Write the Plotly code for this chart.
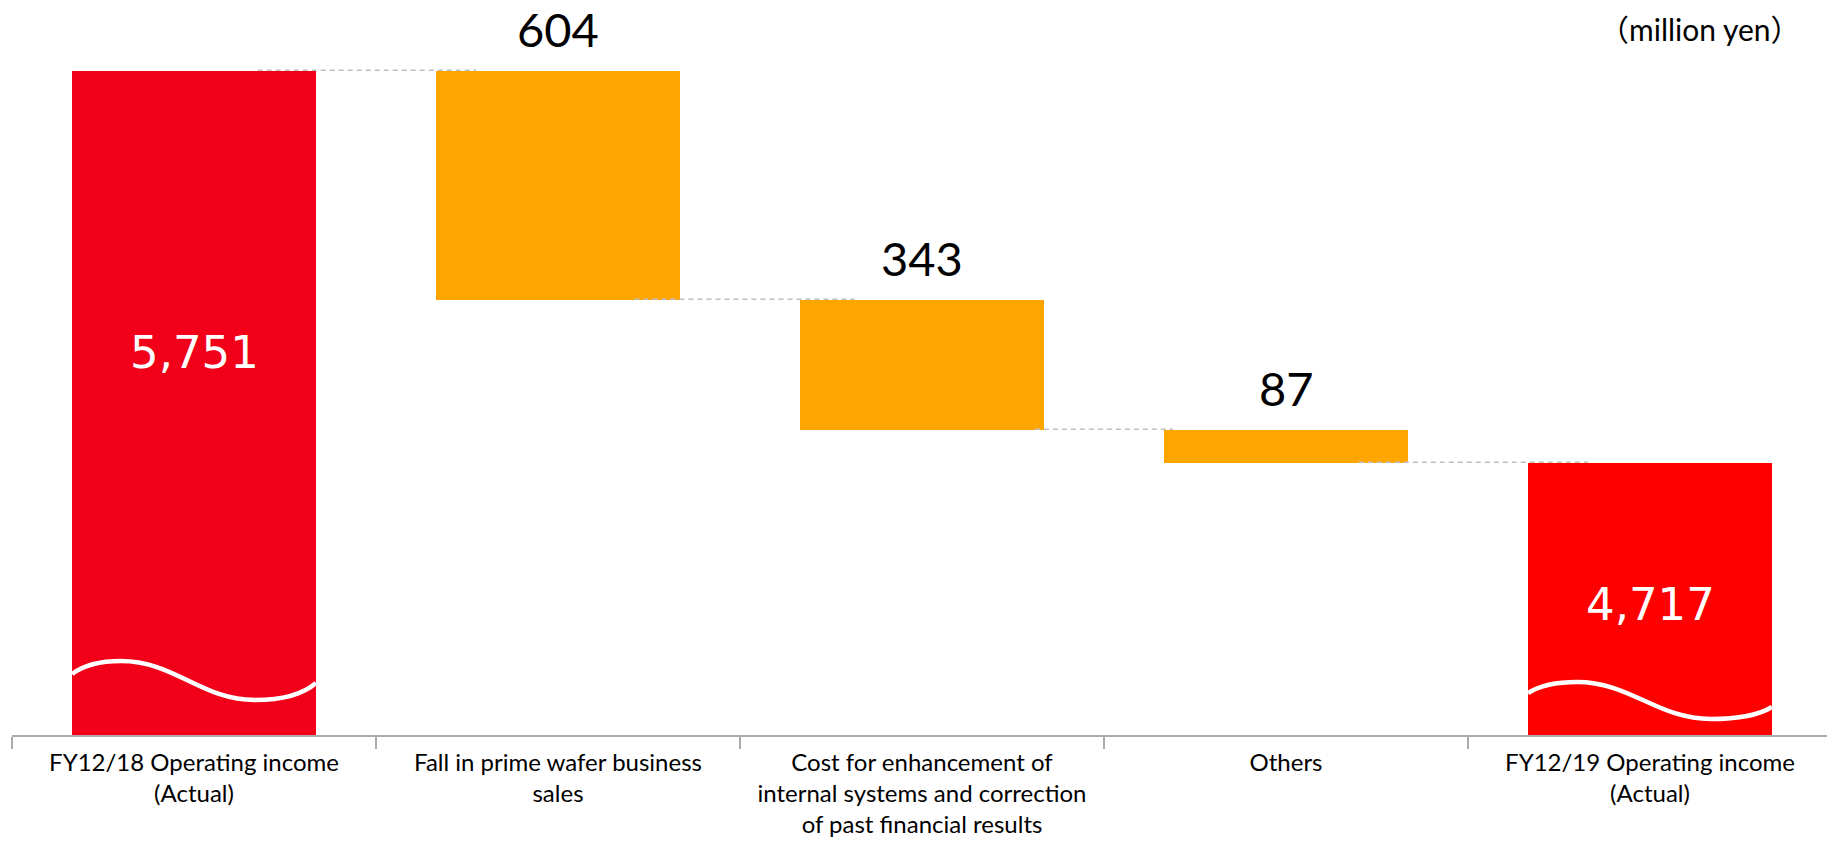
import plotly.graph_objects as go

categories = [
    "FY12/18 Operating income<br>(Actual)",
    "Fall in prime wafer business<br>sales",
    "Cost for enhancement of<br>internal systems and correction<br>of past financial results",
    "Others",
    "FY12/19 Operating income<br>(Actual)",
]
start_value = 5751
decreases = [604, 343, 87]
end_value = 4717
unit_label = "（million yen）"

# derived bar geometry
bases = [0]
heights = [start_value]
level = start_value
for d in decreases:
    level -= d
    bases.append(level)
    heights.append(d)
bases.append(0)
heights.append(end_value)
tops = [b + h for b, h in zip(bases, heights)]

colors = ["#F20019", "#FFA500", "#FFA500", "#FFA500", "#FF0000"]
xs = list(range(len(categories)))
bar_w = 0.67
y_min, y_max = 4000, 5918

fig = go.Figure()
fig.add_trace(go.Bar(
    x=xs, y=heights, base=bases, width=bar_w,
    marker=dict(color=colors, line=dict(width=0)),
    hoverinfo="skip", showlegend=False,
))

# connectors (dashed)
conn_off = [(0.175, 0.775), (0.21, 0.815), (0.31, 0.69), (0.2, 0.83)]
for i, (a, b) in enumerate(conn_off):
    lvl = tops[i] if i == 0 else bases[i]
    fig.add_shape(type="line", xref="x", yref="y", x0=i + a, x1=i + b,
                  ysizemode="pixel", yanchor=lvl, y0=1, y1=1,
                  line=dict(color="#BFBFBF", width=1.6, dash="5px,4px"), layer="above")

# wavy break marks on total bars (pixel heights above axis)
waves = {0: (61, 74, 35, 52), 4: (42, 53, 16, 28)}
for i, (L, P, T, R) in waves.items():
    x0 = i - bar_w / 2
    w = bar_w
    def X(f):
        return x0 + f * w
    path = (f"M {X(0)},{L} Q {X(0.07)},{P} {X(0.2)},{P} "
            f"C {X(0.42)},{P} {X(0.53)},{T} {X(0.75)},{T} "
            f"Q {X(0.92)},{T} {X(1.0)},{R}")
    fig.add_shape(type="path", path=path, xref="x", yref="y",
                  ysizemode="pixel", yanchor=y_min,
                  line=dict(color="white", width=4.5), layer="above")

# value labels above the decrease bars
for i in range(1, 1 + len(decreases)):
    fig.add_annotation(x=i, y=tops[i], text=f"{heights[i]:,}", showarrow=False,
                       yanchor="middle", yshift=42,
                       font=dict(family="Lato, Carlito, sans-serif", size=47, color="black"))

# white labels inside total bars
white_shift = {0: 51, 4: -5}
for i, sh in white_shift.items():
    fig.add_annotation(x=i, y=(y_min + tops[i]) / 2, text=f"{tops[i]:,}", showarrow=False,
                       yanchor="middle", yshift=sh,
                       font=dict(family="DejaVu Sans, Verdana, sans-serif", size=45, color="white"))

fig.add_annotation(xref="paper", yref="paper", x=0.984, y=(727 - 21) / 727,
                   xanchor="right", yanchor="middle", text=unit_label, showarrow=False,
                   font=dict(family="Lato, Noto Sans CJK JP, sans-serif", size=30, color="black"))

fig.update_layout(
    width=1827, height=836,
    margin=dict(l=4, r=3, t=0, b=109, pad=0),
    plot_bgcolor="white", paper_bgcolor="white",
    bargap=0,
    xaxis=dict(
        range=[-0.5, 4.5], tickmode="array", tickvals=xs, ticktext=categories,
        ticks="", showgrid=False, zeroline=False,
        showline=True, linecolor="#ABABAB", linewidth=2,
        ticklabelstandoff=5,
        tickfont=dict(family="Lato, Carlito, sans-serif", size=24, color="black"),
        minor=dict(tickmode="array", tickvals=[x - 0.5 for x in xs] + [xs[-1] + 0.5],
                   ticks="outside", ticklen=12, tickcolor="#ABABAB", tickwidth=1.5, showgrid=False),
        automargin=False, fixedrange=True,
    ),
    yaxis=dict(range=[y_min, y_max], visible=False, showgrid=False, zeroline=False,
               automargin=False, fixedrange=True),
)

fig.write_html("out.html")
